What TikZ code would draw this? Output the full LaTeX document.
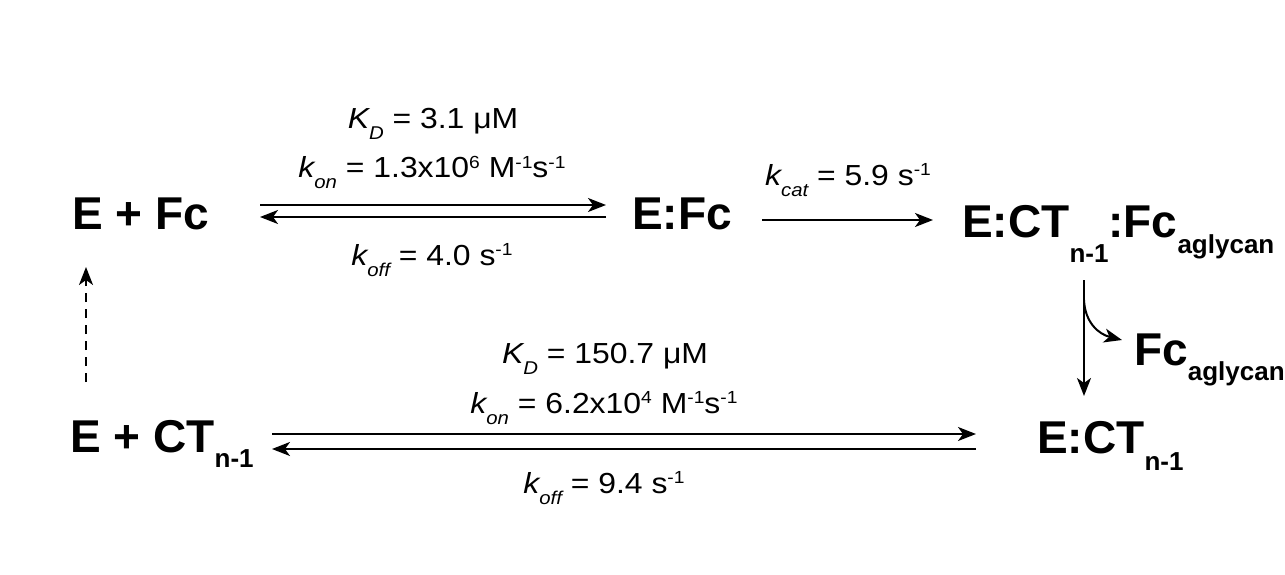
\documentclass[tikz,border=0pt]{standalone}
\usepackage{fontspec}
\setmainfont{Liberation Sans}
\newfontfamily\lblfont[FakeStretch=1.1]{Liberation Sans}
\usetikzlibrary{arrows.meta}
\newcommand\Lsb[1]{\lower11pt\hbox{\fontsize{18.5}{18.5}\selectfont\itshape #1}}
\newcommand\Lsp[1]{\raise9.5pt\hbox{\fontsize{17.5}{17.5}\selectfont #1}}
\newcommand\Bsb[2][16pt]{\lower#1\hbox{\fontsize{26}{26}\selectfont\bfseries #2}}
\tikzset{
  species/.style={anchor=base west, inner sep=0pt, font=\fontsize{46}{50}\selectfont\bfseries},
  lbl/.style={anchor=base, inner sep=0pt, font=\lblfont\fontsize{29}{31}\selectfont},
  arr/.style={line width=2pt, -{Stealth[length=18pt,width=14pt,inset=5pt]}},
  dasharr/.style={arr, dash pattern=on 9pt off 7pt}
}
\begin{document}
\begin{tikzpicture}[x=1pt,y=-1pt]
\useasboundingbox[fill=white] (0,0) rectangle (1285,575);
% species
\node[species] (efc)   at (72,229)   {E + Fc};
\node[species] (ecx)   at (632,229)  {E:Fc};
\node[species] (eprod) at (962,237)  {E:CT\Bsb[25pt]{n-1}:Fc\Bsb{aglycan}};
\node[species] (ect)   at (70,452)   {E + CT\Bsb[15pt]{n-1}};
\node[species] (ectc)  at (1037,453) {E:CT\Bsb[17pt]{n-1}};
\node[species] (fcag)  at (1134,365) {Fc\Bsb[15pt]{aglycan}};
% labels
\node[lbl] (kd1)   at (433,129) {{\itshape K}\Lsb{D} = 3.1 μM};
\node[lbl] (kon1)  at (432,178) {{\itshape k}\Lsb{on} = 1.3x10\Lsp{6} M\Lsp{-1}s\Lsp{-1}};
\node[lbl] (koff1) at (432,265) {{\itshape k}\Lsb{off} = 4.0 s\Lsp{-1}};
\node[lbl] (kcat)  at (848,185) {{\itshape k}\Lsb{cat} = 5.9 s\Lsp{-1}};
\node[lbl] (kd2)   at (605,363) {{\itshape K}\Lsb{D} = 150.7 μM};
\node[lbl] (kon2)  at (604,413) {{\itshape k}\Lsb{on} = 6.2x10\Lsp{4} M\Lsp{-1}s\Lsp{-1}};
\node[lbl] (koff2) at (604,493) {{\itshape k}\Lsb{off} = 9.4 s\Lsp{-1}};
% arrow end points
\coordinate (a1s) at (260,205); \coordinate (a1e) at (606,205);
\coordinate (b1s) at (606,217); \coordinate (b1e) at (260,217);
\coordinate (cs)  at (762,220); \coordinate (ce)  at (933,220);
\coordinate (a2s) at (272,434); \coordinate (a2e) at (976,434);
\coordinate (b2s) at (976,449); \coordinate (b2e) at (272,449);
\coordinate (vs)  at (1084,280); \coordinate (ve) at (1084,396);
\coordinate (br)  at (1084,300); \coordinate (bre) at (1122,340);
\coordinate (ds)  at (86,382);  \coordinate (de)  at (86,267);
% arrows
\draw[arr] (a1s) -- (a1e);
\draw[arr] (b1s) -- (b1e);
\draw[arr] (cs) -- (ce);
\draw[arr] (a2s) -- (a2e);
\draw[arr] (b2s) -- (b2e);
\draw[arr] (vs) -- (ve);
\draw[arr] (br) .. controls (1085,322) and (1098,334) .. (bre);
\draw[dasharr] (ds) -- (de);
\end{tikzpicture}
\end{document}
